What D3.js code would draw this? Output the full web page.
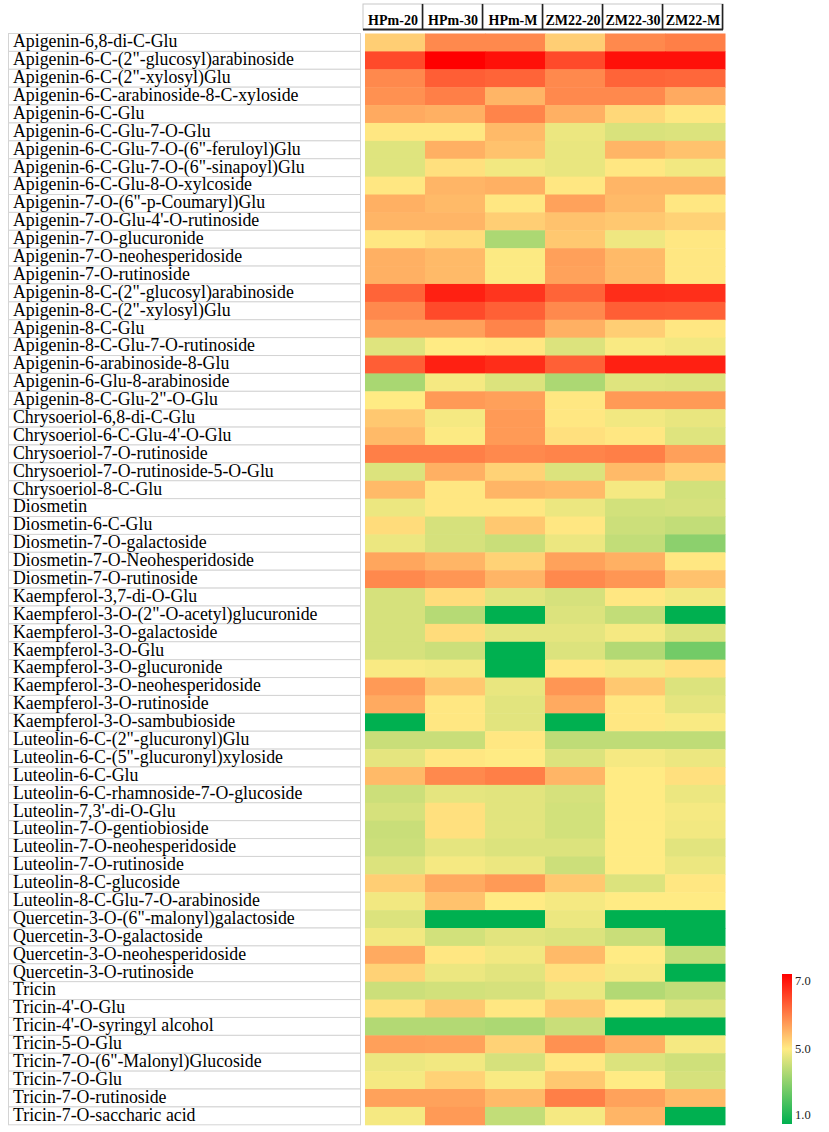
<!DOCTYPE html>
<html>
<head>
<meta charset="utf-8">
<script src="https://cdn.jsdelivr.net/npm/d3@7"></script>
<style>
    body { margin: 0; background: #fff; }
    svg { display: block; font-family: "Liberation Serif", "Times New Roman", serif; }
</style>
</head>
<body>
<svg id="heatmap" width="829" height="1132"></svg>
<script>
var samples = ['HPm-20', 'HPm-30', 'HPm-M', 'ZM22-20', 'ZM22-30', 'ZM22-M'];

var compounds = [
    'Apigenin-6,8-di-C-Glu',
    'Apigenin-6-C-(2"-glucosyl)arabinoside',
    'Apigenin-6-C-(2"-xylosyl)Glu',
    'Apigenin-6-C-arabinoside-8-C-xyloside',
    'Apigenin-6-C-Glu',
    'Apigenin-6-C-Glu-7-O-Glu',
    'Apigenin-6-C-Glu-7-O-(6"-feruloyl)Glu',
    'Apigenin-6-C-Glu-7-O-(6"-sinapoyl)Glu',
    'Apigenin-6-C-Glu-8-O-xylcoside',
    'Apigenin-7-O-(6"-p-Coumaryl)Glu',
    'Apigenin-7-O-Glu-4\'-O-rutinoside',
    'Apigenin-7-O-glucuronide',
    'Apigenin-7-O-neohesperidoside',
    'Apigenin-7-O-rutinoside',
    'Apigenin-8-C-(2"-glucosyl)arabinoside',
    'Apigenin-8-C-(2"-xylosyl)Glu',
    'Apigenin-8-C-Glu',
    'Apigenin-8-C-Glu-7-O-rutinoside',
    'Apigenin-6-arabinoside-8-Glu',
    'Apigenin-6-Glu-8-arabinoside',
    'Apigenin-8-C-Glu-2"-O-Glu',
    'Chrysoeriol-6,8-di-C-Glu',
    'Chrysoeriol-6-C-Glu-4\'-O-Glu',
    'Chrysoeriol-7-O-rutinoside',
    'Chrysoeriol-7-O-rutinoside-5-O-Glu',
    'Chrysoeriol-8-C-Glu',
    'Diosmetin',
    'Diosmetin-6-C-Glu',
    'Diosmetin-7-O-galactoside',
    'Diosmetin-7-O-Neohesperidoside',
    'Diosmetin-7-O-rutinoside',
    'Kaempferol-3,7-di-O-Glu',
    'Kaempferol-3-O-(2"-O-acetyl)glucuronide',
    'Kaempferol-3-O-galactoside',
    'Kaempferol-3-O-Glu',
    'Kaempferol-3-O-glucuronide',
    'Kaempferol-3-O-neohesperidoside',
    'Kaempferol-3-O-rutinoside',
    'Kaempferol-3-O-sambubioside',
    'Luteolin-6-C-(2"-glucuronyl)Glu',
    'Luteolin-6-C-(5"-glucuronyl)xyloside',
    'Luteolin-6-C-Glu',
    'Luteolin-6-C-rhamnoside-7-O-glucoside',
    'Luteolin-7,3\'-di-O-Glu',
    'Luteolin-7-O-gentiobioside',
    'Luteolin-7-O-neohesperidoside',
    'Luteolin-7-O-rutinoside',
    'Luteolin-8-C-glucoside',
    'Luteolin-8-C-Glu-7-O-arabinoside',
    'Quercetin-3-O-(6"-malonyl)galactoside',
    'Quercetin-3-O-galactoside',
    'Quercetin-3-O-neohesperidoside',
    'Quercetin-3-O-rutinoside',
    'Tricin',
    'Tricin-4\'-O-Glu',
    'Tricin-4\'-O-syringyl alcohol',
    'Tricin-5-O-Glu',
    'Tricin-7-O-(6"-Malonyl)Glucoside',
    'Tricin-7-O-Glu',
    'Tricin-7-O-rutinoside',
    'Tricin-7-O-saccharic acid'
];

// one array of values per sample column, same order as compounds
var hpm20 = [5.25, 6.37, 5.83, 5.77, 5.55, 5.03, 4.5, 4.5, 5.03, 5.5,
    5.46, 5.03, 5.5, 5.5, 6.15, 5.83, 5.64, 4.5, 6.2, 3.65,
    5.0, 5.3, 5.42, 5.92, 4.45, 5.42, 4.7, 5.13, 4.7, 5.59,
    5.83, 4.35, 4.35, 4.35, 4.35, 4.9, 5.69, 5.55, 1.0, 4.15,
    4.6, 5.42, 4.2, 4.35, 4.15, 4.2, 4.45, 5.25, 4.8, 4.45,
    4.8, 5.55, 5.21, 4.2, 5.09, 3.8, 5.64, 4.7, 4.85, 5.62,
    4.85];
var hpm30 = [5.83, 7.0, 6.2, 5.92, 5.5, 5.03, 5.5, 5.09, 5.46, 5.42,
    5.46, 5.13, 5.42, 5.42, 6.73, 6.37, 5.64, 5.0, 6.73, 4.85,
    5.69, 4.85, 4.95, 5.92, 5.5, 5.03, 5.03, 4.35, 4.35, 5.46,
    5.72, 5.13, 3.85, 5.13, 4.2, 4.85, 5.3, 5.03, 5.03, 4.15,
    5.03, 5.83, 4.6, 5.09, 5.09, 4.6, 4.85, 5.55, 5.35, 1.0,
    4.3, 5.03, 4.7, 4.3, 5.3, 3.8, 5.62, 4.8, 5.21, 5.62,
    5.69];
var hpmM = [5.83, 6.86, 6.15, 5.46, 5.88, 5.42, 5.35, 4.8, 5.5, 5.03,
    5.25, 3.7, 4.95, 4.95, 6.55, 6.18, 5.88, 5.03, 6.62, 4.45,
    5.64, 5.69, 5.69, 5.83, 5.21, 5.46, 5.03, 5.3, 4.15, 5.21,
    5.46, 4.55, 1.0, 4.6, 1.0, 1.0, 4.65, 4.55, 4.55, 5.03,
    5.0, 5.92, 4.55, 4.55, 4.55, 4.45, 4.7, 5.69, 5.0, 1.0,
    4.55, 4.8, 4.55, 4.35, 5.03, 3.7, 5.21, 4.35, 4.9, 5.42,
    4.05];
var zm20 = [5.25, 6.37, 5.83, 5.83, 5.5, 4.7, 4.65, 4.65, 5.03, 5.62,
    5.35, 5.3, 5.64, 5.62, 6.15, 5.83, 5.5, 4.45, 6.18, 3.7,
    5.03, 5.03, 5.09, 5.88, 4.45, 5.42, 4.7, 5.03, 4.7, 5.62,
    5.83, 4.35, 4.45, 4.6, 4.45, 5.03, 5.72, 5.55, 1.0, 4.0,
    4.45, 5.46, 4.35, 4.3, 4.3, 4.45, 4.2, 5.3, 4.85, 4.7,
    4.45, 5.42, 5.09, 4.7, 5.3, 4.15, 5.77, 5.03, 5.3, 5.92,
    4.85];
var zm30 = [5.83, 6.86, 6.15, 5.83, 5.16, 4.4, 5.46, 5.03, 5.46, 5.42,
    5.3, 4.75, 5.42, 5.42, 6.62, 6.2, 5.25, 4.9, 6.73, 4.5,
    5.69, 4.8, 5.03, 5.92, 5.42, 4.85, 4.3, 4.2, 4.05, 5.5,
    5.72, 5.03, 4.05, 4.85, 3.8, 4.85, 5.3, 5.03, 5.03, 4.0,
    4.85, 5.0, 5.0, 5.0, 5.0, 5.0, 5.0, 4.45, 5.0, 1.0,
    4.15, 5.0, 4.85, 3.8, 5.0, 1.0, 5.5, 4.45, 5.0, 5.62,
    5.46];
var zmM = [5.92, 6.86, 6.12, 5.55, 5.03, 4.45, 5.35, 4.8, 5.46, 5.03,
    5.21, 5.03, 5.03, 5.03, 6.6, 6.18, 5.03, 4.8, 6.73, 4.45,
    5.69, 4.65, 4.5, 5.64, 5.21, 4.3, 4.35, 4.05, 3.2, 5.03,
    5.35, 4.8, 1.0, 4.45, 2.8, 5.09, 4.45, 4.6, 4.9, 4.0,
    4.7, 5.09, 4.7, 4.85, 4.8, 4.55, 4.7, 5.03, 5.0, 1.0,
    1.0, 4.05, 1.0, 4.05, 4.45, 1.0, 4.85, 4.25, 4.35, 5.42,
    1.0];

var legendTicks = [7.0, 5.0, 1.0];

(function () {
    var svg = d3.select('#heatmap');
    var columns = [hpm20, hpm30, hpmM, zm20, zm30, zmM];

    var cells = [];
    compounds.forEach(function (c, i) {
        samples.forEach(function (s, j) {
            cells.push({compound: c, sample: s, value: columns[j][i]});
        });
    });

    var xScale = d3.scaleBand().domain(samples).range([365, 725]);
    var yScale = d3.scaleBand().domain(compounds).range([33.5, 1124.8]);

    // green - yellow - red, like the excel colour scale
    var colorScale = d3.scaleLinear()
        .domain([1, 5, 7])
        .range(['#00b050', '#ffeb84', '#ff0000']);

    // label table on the left
    var labelLeft = 8.5, labelRight = 360.5;
    var labels = svg.append('g').attr('class', 'labels');
    labels.selectAll('rect')
        .data(compounds)
        .enter()
        .append('rect')
        .attr('x', labelLeft)
        .attr('y', function (d) { return yScale(d); })
        .attr('width', labelRight - labelLeft)
        .attr('height', yScale.bandwidth())
        .attr('fill', '#fff')
        .attr('stroke', '#d4d4d4')
        .attr('stroke-width', 1);
    labels.selectAll('text')
        .data(compounds)
        .enter()
        .append('text')
        .attr('x', labelLeft + 4.5)
        .attr('y', function (d) { return yScale(d) + 13.8; })
        .attr('font-size', 17.8)
        .attr('fill', '#000')
        .text(function (d) { return d; });

    // heat cells
    svg.append('g')
        .selectAll('rect')
        .data(cells)
        .enter()
        .append('rect')
        .attr('x', function (d) { return xScale(d.sample); })
        .attr('y', function (d) { return yScale(d.compound); })
        .attr('width', xScale.bandwidth() + 0.5)
        .attr('height', yScale.bandwidth() + 0.5)
        .attr('fill', function (d) { return colorScale(d.value); });

    // column headers, boxed with a dark shadow edge
    var headTop = 4, headBottom = 29.5, headShift = -2;
    var head = svg.append('g').attr('class', 'header');
    head.selectAll('rect')
        .data(samples)
        .enter()
        .append('rect')
        .attr('x', function (d) { return xScale(d) + headShift; })
        .attr('y', headTop)
        .attr('width', xScale.bandwidth())
        .attr('height', headBottom - headTop)
        .attr('fill', '#fff')
        .attr('stroke', '#c8c8c8')
        .attr('stroke-width', 1);
    head.selectAll('line.edge')
        .data(samples)
        .enter()
        .append('line')
        .attr('class', 'edge')
        .attr('x1', function (d) { return xScale(d) + headShift + xScale.bandwidth() - 0.5; })
        .attr('x2', function (d) { return xScale(d) + headShift + xScale.bandwidth() - 0.5; })
        .attr('y1', headTop)
        .attr('y2', headBottom)
        .attr('stroke', '#222')
        .attr('stroke-width', 1.6);
    head.append('line')
        .attr('x1', xScale(samples[0]) + headShift)
        .attr('x2', xScale(samples[samples.length - 1]) + headShift + xScale.bandwidth())
        .attr('y1', headBottom)
        .attr('y2', headBottom)
        .attr('stroke', '#222')
        .attr('stroke-width', 1.8);
    head.selectAll('text')
        .data(samples)
        .enter()
        .append('text')
        .attr('x', function (d) { return xScale(d) + headShift + xScale.bandwidth() / 2; })
        .attr('y', 25)
        .attr('text-anchor', 'middle')
        .attr('font-size', 14)
        .attr('font-weight', 'bold')
        .text(function (d) { return d; });

    // legend bar
    var legTop = 974, legBottom = 1124, legX = 782, legW = 10;
    var defs = svg.append('defs');
    var grad = defs.append('linearGradient')
        .attr('id', 'legendGrad')
        .attr('x1', 0).attr('y1', 1).attr('x2', 0).attr('y2', 0);
    grad.selectAll('stop')
        .data(colorScale.domain())
        .enter()
        .append('stop')
        .attr('offset', function (d, i) { return [0, 0.5, 1][i]; })
        .attr('stop-color', function (d) { return colorScale(d); });
    svg.append('rect')
        .attr('x', legX)
        .attr('y', legTop)
        .attr('width', legW)
        .attr('height', legBottom - legTop)
        .attr('fill', 'url(#legendGrad)');

    var legScale = d3.scaleLinear().domain([1, 5, 7]).range([legBottom - 9, (legTop + legBottom) / 2, legTop + 7]);
    svg.append('g')
        .selectAll('text')
        .data(legendTicks)
        .enter()
        .append('text')
        .attr('x', legX + legW + 3)
        .attr('y', function (d) { return legScale(d) + 4.3; })
        .attr('font-size', 12.5)
        .attr('fill', '#222')
        .text(function (d) { return d.toFixed(1); });
})();
</script>
</body>
</html>
